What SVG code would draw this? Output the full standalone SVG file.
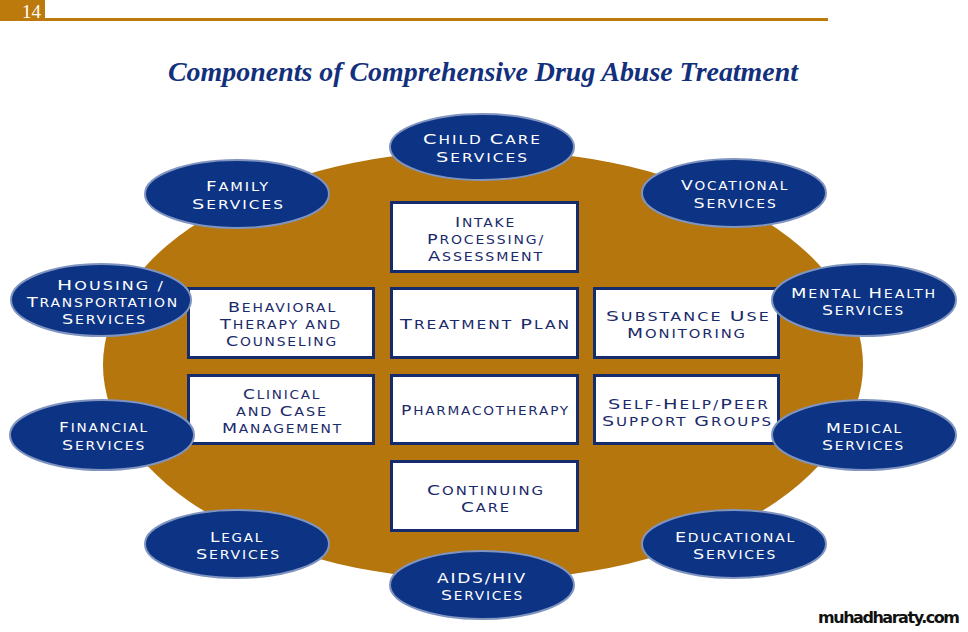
<svg xmlns="http://www.w3.org/2000/svg" width="968" height="632" viewBox="0 0 968 632">
<style>
.hdr{fill:#BC7A0C}
.big{fill:#B5760D}
.ell{fill:#0C3384;stroke:#8094C0;stroke-width:2}
.box{fill:#fff;stroke:#142B6E;stroke-width:3}
.et,.bt{font-family:"DejaVu Sans",sans-serif;font-size:11.5px;text-anchor:middle;letter-spacing:1.5px}
.et{fill:#fff}
.bt{fill:#1B2A6B}
.c{font-size:14.5px}
.title{font-family:"Liberation Serif",serif;font-size:27px;font-weight:bold;font-style:italic;fill:#13307D;text-anchor:middle}
</style>
<rect width="968" height="632" fill="#fff"/>
<g id="header">
<rect class="hdr" x="0" y="0" width="45" height="21"/>
<rect class="hdr" x="45" y="18" width="783" height="3"/>
<text x="22" y="18" font-family="Liberation Serif,serif" font-size="19" fill="#fff">14</text>
</g>
<text class="title" x="483" y="81" textLength="630" lengthAdjust="spacingAndGlyphs">Components of Comprehensive Drug Abuse Treatment</text>
<ellipse id="background" class="big" cx="483" cy="365" rx="380" ry="215"/>
<g id="connectors"></g>
<g id="intake"><rect class="box" x="391.5" y="202.5" width="186" height="69"/>
<text class="bt" x="485.5" y="227" textLength="61" lengthAdjust="spacingAndGlyphs"><tspan class="c">I</tspan>NTAKE</text>
<text class="bt" x="486" y="244" textLength="118" lengthAdjust="spacingAndGlyphs"><tspan class="c">P</tspan>ROCESSING/</text>
<text class="bt" x="486" y="261" textLength="116" lengthAdjust="spacingAndGlyphs"><tspan class="c">A</tspan>SSESSMENT</text></g>
<g id="behavioral"><rect class="box" x="188.5" y="288.5" width="185" height="69"/>
<text class="bt" x="282.5" y="312" textLength="109" lengthAdjust="spacingAndGlyphs"><tspan class="c">B</tspan>EHAVIORAL</text>
<text class="bt" x="281" y="329" textLength="122" lengthAdjust="spacingAndGlyphs"><tspan class="c">T</tspan>HERAPY AND</text>
<text class="bt" x="282" y="346" textLength="112" lengthAdjust="spacingAndGlyphs"><tspan class="c">C</tspan>OUNSELING</text></g>
<g id="treatment"><rect class="box" x="391.5" y="288.5" width="186" height="69"/>
<text class="bt" x="485.5" y="329" textLength="171" lengthAdjust="spacingAndGlyphs"><tspan class="c">T</tspan>REATMENT <tspan class="c">P</tspan>LAN</text></g>
<g id="substance"><rect class="box" x="594.5" y="288.5" width="184" height="69"/>
<text class="bt" x="688.5" y="321" textLength="165" lengthAdjust="spacingAndGlyphs"><tspan class="c">S</tspan>UBSTANCE <tspan class="c">U</tspan>SE</text>
<text class="bt" x="687" y="338" textLength="120" lengthAdjust="spacingAndGlyphs"><tspan class="c">M</tspan>ONITORING</text></g>
<g id="clinical"><rect class="box" x="188.5" y="375.5" width="185" height="68"/>
<text class="bt" x="282" y="399" textLength="78" lengthAdjust="spacingAndGlyphs"><tspan class="c">C</tspan>LINICAL</text>
<text class="bt" x="282" y="416" textLength="92" lengthAdjust="spacingAndGlyphs">AND <tspan class="c">C</tspan>ASE</text>
<text class="bt" x="282.5" y="433" textLength="121" lengthAdjust="spacingAndGlyphs"><tspan class="c">M</tspan>ANAGEMENT</text></g>
<g id="pharma"><rect class="box" x="391.5" y="375.5" width="186" height="68"/>
<text class="bt" x="485.5" y="415" textLength="169" lengthAdjust="spacingAndGlyphs"><tspan class="c">P</tspan>HARMACOTHERAPY</text></g>
<g id="selfhelp"><rect class="box" x="594.5" y="375.5" width="184" height="68"/>
<text class="bt" x="689" y="409" textLength="162" lengthAdjust="spacingAndGlyphs"><tspan class="c">S</tspan>ELF-<tspan class="c">H</tspan>ELP/<tspan class="c">P</tspan>EER</text>
<text class="bt" x="687.5" y="426" textLength="171" lengthAdjust="spacingAndGlyphs"><tspan class="c">S</tspan>UPPORT <tspan class="c">G</tspan>ROUPS</text></g>
<g id="continuing"><rect class="box" x="391.5" y="461.5" width="186" height="69"/>
<text class="bt" x="486" y="495" textLength="118" lengthAdjust="spacingAndGlyphs"><tspan class="c">C</tspan>ONTINUING</text>
<text class="bt" x="486" y="512" textLength="50" lengthAdjust="spacingAndGlyphs"><tspan class="c">C</tspan>ARE</text></g>
<g id="childcare"><ellipse class="ell" cx="482" cy="147" rx="92" ry="33"/>
<text class="et" x="482.5" y="144" textLength="119" lengthAdjust="spacingAndGlyphs"><tspan class="c">C</tspan>HILD <tspan class="c">C</tspan>ARE</text>
<text class="et" x="482.5" y="162" textLength="93" lengthAdjust="spacingAndGlyphs"><tspan class="c">S</tspan>ERVICES</text></g>
<g id="family"><ellipse class="ell" cx="237" cy="194" rx="92" ry="34"/>
<text class="et" x="238" y="191" textLength="64" lengthAdjust="spacingAndGlyphs"><tspan class="c">F</tspan>AMILY</text>
<text class="et" x="238.5" y="209" textLength="93" lengthAdjust="spacingAndGlyphs"><tspan class="c">S</tspan>ERVICES</text></g>
<g id="vocational"><ellipse class="ell" cx="734" cy="193" rx="92" ry="34"/>
<text class="et" x="735" y="190" textLength="108" lengthAdjust="spacingAndGlyphs"><tspan class="c">V</tspan>OCATIONAL</text>
<text class="et" x="735.5" y="208" textLength="84" lengthAdjust="spacingAndGlyphs"><tspan class="c">S</tspan>ERVICES</text></g>
<g id="housing"><ellipse class="ell" cx="101" cy="300" rx="90" ry="36"/>
<text class="et" x="111" y="290" textLength="108" lengthAdjust="spacingAndGlyphs"><tspan class="c">H</tspan>OUSING /</text>
<text class="et" x="103" y="307" textLength="152" lengthAdjust="spacingAndGlyphs"><tspan class="c">T</tspan>RANSPORTATION</text>
<text class="et" x="104.5" y="324" textLength="85" lengthAdjust="spacingAndGlyphs"><tspan class="c">S</tspan>ERVICES</text></g>
<g id="mental"><ellipse class="ell" cx="864" cy="300" rx="92" ry="36"/>
<text class="et" x="864" y="298" textLength="146" lengthAdjust="spacingAndGlyphs"><tspan class="c">M</tspan>ENTAL <tspan class="c">H</tspan>EALTH</text>
<text class="et" x="863.5" y="315" textLength="83" lengthAdjust="spacingAndGlyphs"><tspan class="c">S</tspan>ERVICES</text></g>
<g id="financial"><ellipse class="ell" cx="102" cy="435" rx="92" ry="35"/>
<text class="et" x="104" y="432" textLength="90" lengthAdjust="spacingAndGlyphs"><tspan class="c">F</tspan>INANCIAL</text>
<text class="et" x="104" y="450" textLength="84" lengthAdjust="spacingAndGlyphs"><tspan class="c">S</tspan>ERVICES</text></g>
<g id="medical"><ellipse class="ell" cx="864" cy="435" rx="92" ry="35"/>
<text class="et" x="864.5" y="433" textLength="77" lengthAdjust="spacingAndGlyphs"><tspan class="c">M</tspan>EDICAL</text>
<text class="et" x="863.5" y="450" textLength="83" lengthAdjust="spacingAndGlyphs"><tspan class="c">S</tspan>ERVICES</text></g>
<g id="legal"><ellipse class="ell" cx="237" cy="544" rx="92" ry="34"/>
<text class="et" x="237" y="542" textLength="54" lengthAdjust="spacingAndGlyphs"><tspan class="c">L</tspan>EGAL</text>
<text class="et" x="238.5" y="559" textLength="85" lengthAdjust="spacingAndGlyphs"><tspan class="c">S</tspan>ERVICES</text></g>
<g id="educational"><ellipse class="ell" cx="734" cy="544" rx="92" ry="34"/>
<text class="et" x="735.5" y="542" textLength="121" lengthAdjust="spacingAndGlyphs"><tspan class="c">E</tspan>DUCATIONAL</text>
<text class="et" x="735" y="559" textLength="84" lengthAdjust="spacingAndGlyphs"><tspan class="c">S</tspan>ERVICES</text></g>
<g id="aids"><ellipse class="ell" cx="482" cy="585" rx="92" ry="34"/>
<text class="et" x="482" y="583" textLength="90" lengthAdjust="spacingAndGlyphs"><tspan class="c">AIDS/HIV</tspan></text>
<text class="et" x="482.5" y="600" textLength="83" lengthAdjust="spacingAndGlyphs"><tspan class="c">S</tspan>ERVICES</text></g>
<text x="960" y="623" font-family="DejaVu Sans,sans-serif" font-size="16" font-weight="bold" fill="#111" text-anchor="end" textLength="142">muhadharaty.com</text>
</svg>
